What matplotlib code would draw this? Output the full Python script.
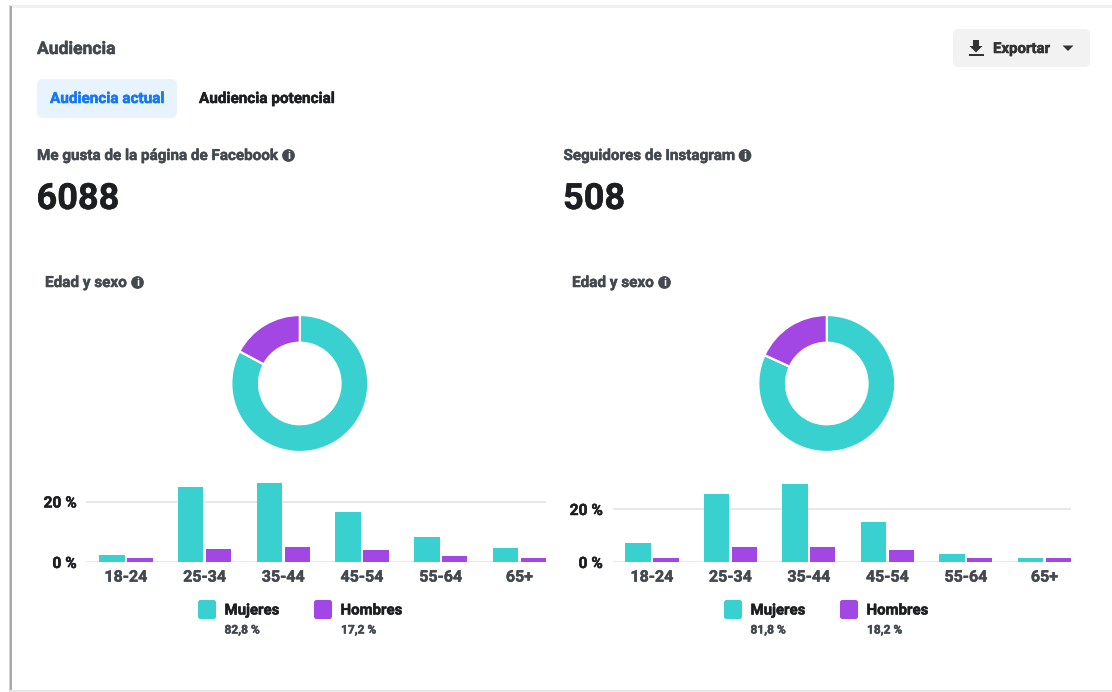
import matplotlib
matplotlib.use("Agg")
import matplotlib.pyplot as plt
import matplotlib.patheffects as pe
from matplotlib.patches import FancyBboxPatch, Circle, Polygon, Rectangle

plt.rcParams['font.family'] = ['Roboto', 'DejaVu Sans']

W, H = 1112, 692
TEAL = '#38d1d0'
PURPLE = '#a247e3'
DARK = '#1c1e21'
GREY = '#444950'

age_groups = ['18-24', '25-34', '35-44', '45-54', '55-64', '65+']
fb_women = [2.3, 24.8, 26.0, 16.4, 8.4, 4.5]
fb_men = [1.3, 4.3, 4.9, 4.0, 1.9, 1.3]
ig_women = [7.0, 25.5, 29.6, 15.2, 2.9, 1.5]
ig_men = [1.5, 5.7, 5.5, 4.6, 1.5, 1.5]
fb_split = [82.8, 17.2]
ig_split = [81.8, 18.2]
fb_split_labels = ['82,8 %', '17,2 %']
ig_split_labels = ['81,8 %', '18,2 %']
fb_total = '6088'
ig_total = '508'
y_ticks = [0, 20]
y_tick_labels = ['0 %', '20 %']

fig = plt.figure(figsize=(W / 100, H / 100), dpi=100, facecolor='white')


def px_axes(left, top, right, bottom, **kw):
    """Axes placed by pixel edges measured from the top-left corner."""
    return fig.add_axes([left / W, 1 - bottom / H, (right - left) / W, (bottom - top) / H], **kw)


def heavier(artist, color, amount=0.35):
    """Thicken a label slightly beyond the regular bold cut."""
    artist.set_path_effects([pe.withStroke(linewidth=amount, foreground=color)])


# Page-level layer in pixel coordinates for the card, buttons and headings.
ui = px_axes(0, 0, W, H)
ui.set_xlim(0, W)
ui.set_ylim(H, 0)
ui.axis('off')

# Card edges
ui.add_patch(Rectangle((0, 0), W, H, fc='white', ec='none'))
ui.add_patch(Rectangle((8.5, 5), W, 2.5, fc='#f0f0f0', ec='none'))
ui.add_patch(Rectangle((8.5, 5), 1.5, H, fc='#d4d4d4', ec='none'))
ui.add_patch(Rectangle((10, 6), 1.5, H, fc='#a8a8a8', ec='none'))
ui.add_patch(Rectangle((10, 689.5), W, 2.5, fc='#e8e8e8', ec='none'))


def rounded(x0, y0, x1, y1, color, r=6):
    ui.add_patch(FancyBboxPatch((x0 + r, y0 + r), x1 - x0 - 2 * r, y1 - y0 - 2 * r,
                                boxstyle=f'round,pad={r},rounding_size={r}',
                                fc=color, ec='none'))


def label(x, y, s, size, color=GREY, ha='left', weight='bold'):
    t = ui.text(x, y, s, fontsize=size, color=color, ha=ha, va='center', fontweight=weight)
    heavier(t, color)


def info_icon(x, y):
    ui.add_patch(Circle((x, y), 6.4, fc=GREY, ec='none'))
    ui.text(x, y + 0.3, 'i', fontsize=8, color='white', ha='center', va='center', fontweight='bold')


label(37, 49.5, 'Audiencia', 12.6)

# Tab buttons
rounded(37, 79, 177, 118, '#e7f3ff', r=6)
label(50, 99, 'Audiencia actual', 11, color='#1877f2')
label(199, 99, 'Audiencia potencial', 11, color=DARK)

# Export button
rounded(953, 29, 1090, 67, '#f2f2f2', r=6)
ui.add_patch(Polygon([(973, 40), (979, 40), (979, 46), (982.5, 46), (976, 52.5), (969.5, 46), (973, 46)],
                     fc='#333333', ec='none'))
ui.add_patch(Rectangle((968.5, 54), 15, 2, fc='#333333', ec='none'))
label(993, 49, 'Exportar', 10.8, color='#333333')
ui.add_patch(Polygon([(1062.5, 45.5), (1073.5, 45.5), (1068, 51)], fc='#333333', ec='none'))

# Headline metrics
label(37, 156, 'Me gusta de la página de Facebook', 10.95)
info_icon(288.5, 155.5)
label(36.5, 199, fb_total, 26, color=DARK)
label(563.5, 156, 'Seguidores de Instagram', 10.95)
info_icon(745, 155.5)
label(563, 199, ig_total, 26, color=DARK)


def demographics(origin_x, grid_right, axis_left, px_per_pct, women, men, split, split_labels,
                 legend_dx, step):
    label(origin_x, 283, 'Edad y sexo', 11)
    info_icon(origin_x + 92.5, 282.5)

    # Donut of the overall split, clockwise from twelve o'clock
    cx = origin_x + 254.8
    donut = px_axes(cx - 68.5, 383.5 - 68.5, cx + 68.5, 383.5 + 68.5)
    donut.pie(split, colors=[TEAL, PURPLE], startangle=90, counterclock=False, radius=1,
              wedgeprops=dict(width=0.405, edgecolor='white', linewidth=1.6))
    donut.set_xlim(-1, 1)
    donut.set_ylim(-1, 1)

    # Grouped bars by age group; one x unit spans a whole group and the
    # last group's right edge meets the right end of the gridlines
    bar_w = 25.4 / step
    gap = 2.4 / step
    top = 484
    bottom = 562
    span = (grid_right - axis_left) / step
    ax = px_axes(axis_left, top, grid_right, bottom)
    ax.patch.set_alpha(0)
    ax.set_ylim(0, (bottom - top) / px_per_pct)
    ax.set_xlim(0, span)
    xs = [span - 5 + i - bar_w - gap / 2 for i in range(len(age_groups))]
    ax.set_axisbelow(True)
    ax.yaxis.grid(True, color='#e8e8e8', linewidth=1.4)
    ax.xaxis.grid(False)
    ax.bar([x - (bar_w + gap) / 2 for x in xs], women, width=bar_w, color=TEAL, clip_on=False)
    ax.bar([x + (bar_w + gap) / 2 for x in xs], men, width=bar_w, color=PURPLE, clip_on=False)
    for s in ax.spines.values():
        s.set_visible(False)
    ax.set_yticks(y_ticks, y_tick_labels, fontsize=11.2, fontweight='bold', color=DARK)
    ax.set_xticks(xs, age_groups, fontsize=11.5, fontweight='bold', color=GREY)
    for t in ax.get_yticklabels():
        heavier(t, DARK)
    for t in ax.get_xticklabels():
        heavier(t, GREY)
    ax.tick_params(axis='both', length=0)
    ax.tick_params(axis='x', pad=5.5)
    ax.tick_params(axis='y', pad=7)

    # Legend with the overall percentages
    lx = 198 + legend_dx
    rounded(lx, 600, lx + 18, 619, TEAL, r=2.5)
    rounded(lx + 116, 600, lx + 134, 619, PURPLE, r=2.5)
    label(lx + 26.5, 610.5, 'Mujeres', 10.8, color=DARK)
    label(lx + 142.5, 610.5, 'Hombres', 10.8, color=DARK)
    label(lx + 26.5, 630, split_labels[0], 8.6)
    label(lx + 143, 630, split_labels[1], 8.6)


demographics(45, 546, 86.4, 60.5 / 20, fb_women, fb_men, fb_split, fb_split_labels, 0, 78.7)
demographics(572, 1071, 612.5, 53 / 20, ig_women, ig_men, ig_split, ig_split_labels, 526, 78.5)

fig.savefig('out.png', dpi=100)
